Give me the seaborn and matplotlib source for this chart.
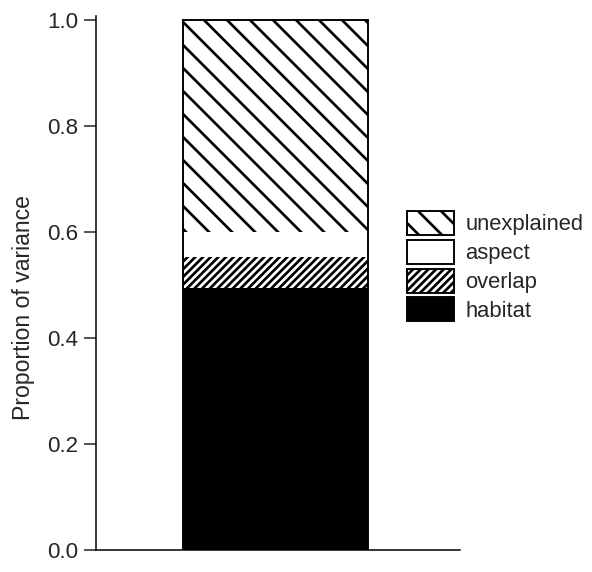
import numpy as np
import pandas as pd
import matplotlib
matplotlib.use("Agg")
import matplotlib.pyplot as plt
import matplotlib.patches as mpatches
from matplotlib.ticker import FormatStrFormatter
import seaborn as sns

# ---- data (bottom to top) ----
components = ["habitat", "overlap", "aspect", "unexplained"]
proportions = [0.495, 0.058, 0.047, 0.400]
fills = ["black", "white", "white", "white"]
hatches = ["", "//////", "", "\\\\"]
legend_order = ["unexplained", "aspect", "overlap", "habitat"]
yticks = [0.0, 0.2, 0.4, 0.6, 0.8, 1.0]
ylabel = "Proportion of variance"

sns.set_style("ticks")
plt.rcParams["font.family"] = ["Liberation Sans", "DejaVu Sans"]
plt.rcParams["hatch.linewidth"] = 1.4
plt.rcParams["hatch.color"] = "black"

DPI = 138
fig = plt.figure(figsize=(592 / DPI, 572 / DPI), dpi=DPI)
ax = fig.add_axes([96 / 592, 22 / 572, 364 / 592, 534 / 572])

tops = np.cumsum(proportions)
df = pd.DataFrame({"component": components, "top": tops, "group": [""] * len(components)})

# cumulative bars drawn from tallest down, so each layer shows only its own segment
for i in range(len(components) - 1, -1, -1):
    sub = df.iloc[[i]]
    sns.barplot(data=sub, x="group", y="top", ax=ax, width=0.5,
                color=fills[i], edgecolor="black", linewidth=0,
                hatch=hatches[i] if hatches[i] else None,
                saturation=1, errorbar=None)
# outline of the whole stacked bar
sns.barplot(data=df.iloc[[len(components) - 1]], x="group", y="top", ax=ax, width=0.5,
            facecolor="none", edgecolor="black", linewidth=1.0, errorbar=None)

ax.set_xlim(-0.485, 0.499)
ax.set_ylim(0, 1.0075)
ax.set_yticks(yticks)
ax.yaxis.set_major_formatter(FormatStrFormatter("%.1f"))
ax.set_xticks([])
ax.set_xlabel("")
ax.set_ylabel(ylabel, fontsize=12)
ax.yaxis.set_label_coords(-0.168, 0.455)
ax.tick_params(axis="y", length=6.3, width=0.8, pad=3.1, labelsize=11.7, direction="out")
for s in ["top", "right"]:
    ax.spines[s].set_visible(False)
for s in ["left", "bottom"]:
    ax.spines[s].set_linewidth(0.8)
    ax.spines[s].set_color("black")

handles = []
for name in legend_order:
    i = components.index(name)
    handles.append(mpatches.Patch(facecolor=fills[i], edgecolor="black", linewidth=1.0,
                                  hatch=hatches[i] if hatches[i] else None, label=name))
fig.legend(handles=handles, loc="upper left", bbox_to_anchor=(407 / 592, (572 - 211) / 572),
           frameon=False, fontsize=11.5, handlelength=2.15, handleheight=1.3,
           labelspacing=0.2, handletextpad=0.5, borderpad=0, borderaxespad=0)

fig.savefig("out.png", dpi=DPI)
